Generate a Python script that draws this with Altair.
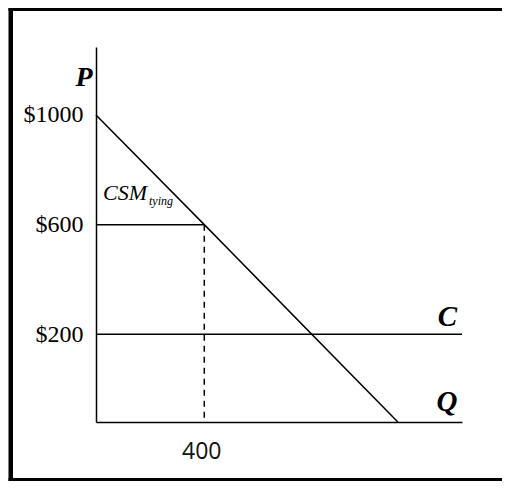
import altair as alt
import pandas as pd

# ---- values ----
demand_q = [0, 400, 1115]
demand_p = [1000, 600, -120]
cost_level = 200
price_tying = 600
q_tying = 400
q_max = 1352
p_min = -120
p_max = 1248
y_ticks = [1000, 600, 200]
y_tick_labels = ["$1000", "$600", "$200"]
x_ticks = [400]

SERIF = "Liberation Serif"
LW = 1.5

demand = pd.DataFrame({"Q": demand_q, "P": demand_p})
xs = alt.Scale(domain=[0, q_max], nice=False, zero=False)
ys = alt.Scale(domain=[p_min, p_max], nice=False, zero=False)

label_expr = " : ".join(f"datum.value == {v} ? '{l}'" for v, l in zip(y_ticks, y_tick_labels)) + " : ''"

x_axis = alt.Axis(
    values=x_ticks, ticks=False, tickSize=0, grid=False,
    domainColor="black", domainWidth=LW,
    labelFont="Open Sans", labelFontSize=23, labelColor="#111111",
    labelPadding=18, labelOffset=-3,
    title="Q", titleFont=SERIF, titleFontStyle="italic", titleFontWeight="bold",
    titleFontSize=29, titleColor="black", titleAlign="right",
    titleBaseline="alphabetic", titleX=361, titleY=-12,
)
y_axis = alt.Axis(
    values=y_ticks, labelExpr=label_expr, ticks=False, tickSize=0, grid=False,
    domainColor="black", domainWidth=LW,
    labelFont=SERIF, labelFontSize=24, labelColor="black", labelPadding=13,
    title="P", titleFont=SERIF, titleFontStyle="italic", titleFontWeight="bold",
    titleFontSize=28, titleColor="black", titleAngle=0, titleAlign="right",
    titleBaseline="alphabetic", titleX=-4, titleY=38,
)

demand_line = alt.Chart(demand).mark_line(color="black", strokeWidth=LW).encode(
    x=alt.X("Q:Q", scale=xs, axis=x_axis),
    y=alt.Y("P:Q", scale=ys, axis=y_axis),
)

cost_rule = alt.Chart(pd.DataFrame({"P": [cost_level]})).mark_rule(
    color="black", strokeWidth=LW
).encode(y=alt.Y("P:Q", scale=ys))

price_rule = alt.Chart(pd.DataFrame({"Q0": [0], "Q1": [q_tying], "P": [price_tying]})).mark_rule(
    color="black", strokeWidth=LW
).encode(x=alt.X("Q0:Q", scale=xs), x2="Q1", y=alt.Y("P:Q", scale=ys))

dash_rule = alt.Chart(pd.DataFrame({"Q": [q_tying], "P0": [price_tying], "P1": [p_min]})).mark_rule(
    color="black", strokeWidth=LW, strokeDash=[6, 5]
).encode(x=alt.X("Q:Q", scale=xs), y=alt.Y("P0:Q", scale=ys), y2="P1")

c_label = alt.Chart(pd.DataFrame({"Q": [q_max], "P": [cost_level], "t": ["C"]})).mark_text(
    font=SERIF, fontStyle="italic", fontWeight="bold", fontSize=29, color="black",
    align="right", baseline="alphabetic", dx=-5, dy=-8,
).encode(x=alt.X("Q:Q", scale=xs), y=alt.Y("P:Q", scale=ys), text="t:N")

csm_label = alt.Chart(pd.DataFrame({"Q": [0], "P": [price_tying], "t": ["CSM"]})).mark_text(
    font=SERIF, fontStyle="italic", fontSize=22, color="black",
    align="left", baseline="alphabetic", dx=7, dy=-25,
).encode(x=alt.X("Q:Q", scale=xs), y=alt.Y("P:Q", scale=ys), text="t:N")

sub_label = alt.Chart(pd.DataFrame({"Q": [0], "P": [price_tying], "t": ["tying"]})).mark_text(
    font=SERIF, fontStyle="italic", fontSize=12, color="black",
    align="left", baseline="alphabetic", dx=53, dy=-20,
).encode(x=alt.X("Q:Q", scale=xs), y=alt.Y("P:Q", scale=ys), text="t:N")

# decorative outer frame: left, top and bottom edges only (open to the right)
one = pd.DataFrame({"a": [0]})
frame_left = alt.Chart(one).mark_rect(fill="black").encode(
    x=alt.value(-87.5), x2=alt.value(-83), y=alt.value(-39), y2=alt.value(434))
frame_top = alt.Chart(one).mark_rect(fill="black").encode(
    x=alt.value(-87.5), x2=alt.value(406), y=alt.value(-39), y2=alt.value(-36))
frame_bottom = alt.Chart(one).mark_rect(fill="black").encode(
    x=alt.value(-87.5), x2=alt.value(406), y=alt.value(431), y2=alt.value(434))

chart = alt.layer(
    demand_line, cost_rule, price_rule, dash_rule, c_label, csm_label, sub_label,
    frame_left, frame_top, frame_bottom,
).properties(
    width=366, height=375,
    autosize=alt.AutoSizeParams(type="none"),
    padding={"left": 88, "top": 39, "right": 47, "bottom": 59},
).configure_view(stroke="transparent")

chart.save("out.html", embed_options={"renderer": "svg", "actions": False})
